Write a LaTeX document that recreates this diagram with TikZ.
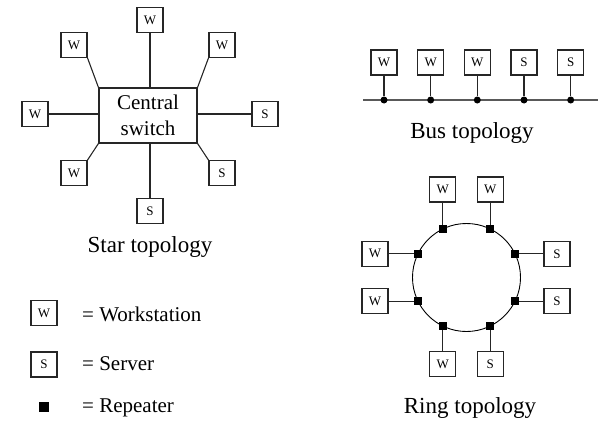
\documentclass[tikz,border=0pt]{standalone}
\usepackage{fontspec}
\setmainfont{Liberation Serif}
\usetikzlibrary{calc}
\begin{document}
\begin{tikzpicture}[x=1pt,y=-1pt,
  box/.style={draw=black!85,line width=1.1pt,minimum width=26pt,minimum height=25pt,inner sep=0pt,font=\fontsize{13}{13}\selectfont},
  rep/.style={fill=black,minimum size=8pt,inner sep=0pt},
  dot/.style={circle,fill=black,minimum size=7pt,inner sep=0pt},
  lab/.style={font=\fontsize{23}{23}\selectfont,anchor=base,inner sep=0pt},
  leg/.style={font=\fontsize{21}{21}\selectfont,anchor=base west,inner sep=0pt},
  wire/.style={line width=1.1pt,draw=black!85}]
\useasboundingbox (0,0) rectangle (598,423);
% ---------- Star ----------
\node[draw=black!85,line width=1.1pt,minimum width=98pt,minimum height=55pt,inner sep=0pt,align=center,font=\fontsize{21}{26}\selectfont] (sw) at (148,115.5) {Central\\switch};
\node[box] (st) at (150,20) {W};
\node[box] (stl) at (74,45) {W};
\node[box] (str) at (222,45) {W};
\node[box] (sl) at (35,114) {W};
\node[box] (sr) at (265,114) {S};
\node[box] (sbl) at (74,173) {W};
\node[box] (sbr) at (222,173) {S};
\node[box] (sb) at (150,211) {S};
\draw[wire] (st.south) -- (st.south |- sw.north);
\draw[wire] (stl.south east) -- (sw.north west);
\draw[wire] (str.south west) -- (sw.north east);
\draw[wire] (sl.east) -- (sl.east -| sw.west);
\draw[wire] (sr.west) -- (sr.west -| sw.east);
\draw[wire] (sbl.north east) -- (sw.south west);
\draw[wire] (sbr.north west) -- (sw.south east);
\draw[wire] (sb.north) -- (sb.north |- sw.south);
\node[lab] (startxt) at (150,252) {Star topology};
% ---------- Legend ----------
\node[box] (lw) at (44,313) {W};
\node[leg] (lwt) at (82,321) {= Workstation};
\node[box] (ls) at (44,364.5) {S};
\node[leg] (lst) at (82,370) {= Server};
\node[rep,minimum size=10pt] (lr) at (44,407) {};
\node[leg] (lrt) at (82,412) {= Repeater};
% ---------- Bus ----------
\coordinate (busL) at (363,100);
\coordinate (busR) at (598,100);
\draw[line width=1.6pt,draw=black!65] (busL) -- (busR);
\foreach \i/\x/\t in {1/384/W,2/430.7/W,3/477.3/W,4/524/S,5/570.7/S}{
  \node[box] (bb\i) at (\x,62.5) {\t};
  \node[dot] (bd\i) at (\x,100) {};
  \draw[wire] (bb\i.south) -- (bd\i);
}
\node[lab] (bustxt) at (472,138) {Bus topology};
% ---------- Ring ----------
\coordinate (rc) at (466.5,277.5);
\node[circle,draw=black,line width=0.9pt,minimum size=108pt,inner sep=0pt] (ring) at (rc) {};
\foreach \i/\a in {1/-116,2/-64,3/-26,4/26,5/64,6/116,7/154,8/-154}{
  \node[rep] (r\i) at ($(rc)+(\a:54)$) {};
}
\node[box] (rb1) at (r1 |- 0,189.5) {W};
\node[box] (rb2) at (r2 |- 0,189.5) {W};
\node[box] (rb3) at (557,0 |- r3) {S};
\node[box] (rb4) at (557,0 |- r4) {S};
\node[box] (rb5) at (r5 |- 0,364) {S};
\node[box] (rb6) at (r6 |- 0,364) {W};
\node[box] (rb7) at (375,0 |- r7) {W};
\node[box] (rb8) at (375,0 |- r8) {W};
\draw[wire] (rb1.south) -- (r1);
\draw[wire] (rb2.south) -- (r2);
\draw[wire] (rb3.west) -- (r3);
\draw[wire] (rb4.west) -- (r4);
\draw[wire] (rb5.north) -- (r5);
\draw[wire] (rb6.north) -- (r6);
\draw[wire] (rb7.east) -- (r7);
\draw[wire] (rb8.east) -- (r8);
\node[lab] (ringtxt) at (470,413) {Ring topology};
\end{tikzpicture}
\end{document}
